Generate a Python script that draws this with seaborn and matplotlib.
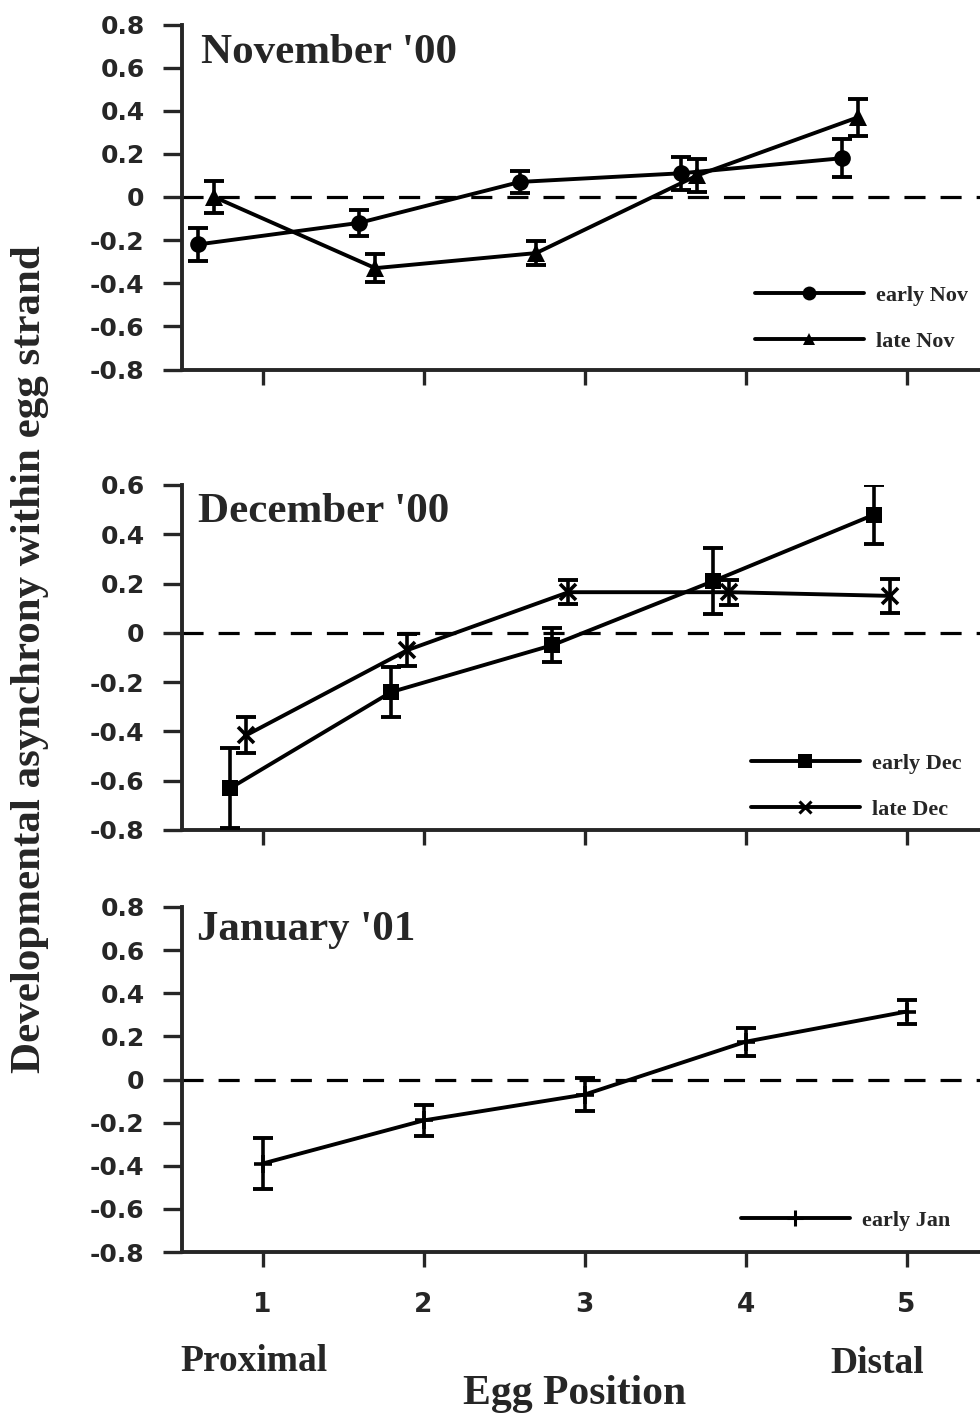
import matplotlib
matplotlib.use('Agg')
import matplotlib.pyplot as plt
from matplotlib.lines import Line2D
import seaborn as sns
import pandas as pd

# --- data (x = egg position, offset per series as drawn) ---
egg_ticks = [1, 2, 3, 4, 5]

nov_early_x = [0.6, 1.6, 2.6, 3.6, 4.6]
nov_early = [-0.22, -0.12, 0.07, 0.11, 0.18]
nov_early_err = [0.077, 0.06, 0.05, 0.077, 0.088]
nov_late_x = [0.7, 1.7, 2.7, 3.7, 4.7]
nov_late = [0.0, -0.33, -0.26, 0.10, 0.37]
nov_late_err = [0.075, 0.066, 0.055, 0.075, 0.086]

dec_early_x = [0.8, 1.8, 2.8, 3.8, 4.8]
dec_early = [-0.63, -0.24, -0.05, 0.21, 0.48]
dec_early_err = [0.163, 0.10, 0.068, 0.134, 0.12]
dec_late_x = [0.9, 1.9, 2.9, 3.9, 4.9]
dec_late = [-0.415, -0.07, 0.165, 0.165, 0.15]
dec_late_err = [0.074, 0.065, 0.048, 0.05, 0.07]

jan_early_x = [1, 2, 3, 4, 5]
jan_early = [-0.39, -0.19, -0.07, 0.175, 0.315]
jan_early_err = [0.118, 0.07, 0.078, 0.065, 0.056]

yticks_full = [-0.8, -0.6, -0.4, -0.2, 0, 0.2, 0.4, 0.6, 0.8]
yticks_dec = [-0.8, -0.6, -0.4, -0.2, 0, 0.2, 0.4, 0.6]

sns.set_style('ticks')
plt.rcParams['axes.unicode_minus'] = False
plt.rcParams['font.family'] = ['DejaVu Sans']
SERIF = 'Liberation Serif'

fig = plt.figure(figsize=(9.8, 14.15), dpi=100)
W, H = 980, 1415

def add_axes(top_px, bot_px):
    return fig.add_axes([182 / W, 1 - bot_px / H, 805 / W, (bot_px - top_px) / H])

panels = [
    dict(ax=add_axes(24.5, 369.5), title="November '00", title_xy=(201, 62.7),
         yticks=yticks_full, leg_xy=(755, 285),
         series=[('early Nov', nov_early_x, nov_early, nov_early_err, 'o', 12, 10),
                 ('late Nov', nov_late_x, nov_late, nov_late_err, '^', 13, 9)]),
    dict(ax=add_axes(485, 830), title="December '00", title_xy=(198, 521.7),
         yticks=yticks_dec, leg_xy=(751, 753),
         series=[('early Dec', dec_early_x, dec_early, dec_early_err, 's', 12, 10),
                 ('late Dec', dec_late_x, dec_late, dec_late_err, 'x', 11, 8)]),
    dict(ax=add_axes(907, 1252), title="January '01", title_xy=(197, 940),
         yticks=yticks_full, leg_xy=(741, 1210),
         series=[('early Jan', jan_early_x, jan_early, jan_early_err, '+', 13, 11)]),
]

for i, p in enumerate(panels):
    ax = p['ax']
    ax.axhline(0, color='black', lw=2.3, ls=(0, (6.6, 4.7)), zorder=1)
    handles = []
    for name, xs, ys, errs, mk, ms, lms in p['series']:
        df = pd.DataFrame({'pos': xs, 'val': ys})
        thin = mk in 'x+'
        sns.lineplot(data=df, x='pos', y='val', ax=ax, color='black', lw=2.8,
                     marker=mk, markersize=ms, markeredgewidth=2.6 if thin else 0,
                     markeredgecolor='black', legend=False, zorder=3)
        ax.errorbar(xs, ys, yerr=errs, fmt='none', ecolor='black', elinewidth=2.6,
                    capsize=7.5, capthick=2.8, zorder=3)
        handles.append(Line2D([], [], color='black', lw=2.8, marker=mk,
                              markersize=lms,
                              markeredgewidth=2.2 if thin else 0,
                              markeredgecolor='black', label=name))
    ax.set_xlim(0.5, 5.5)
    ax.set_ylim(p['yticks'][0], p['yticks'][-1])
    ax.set_yticks(p['yticks'], [f'{v:g}' for v in p['yticks']])
    ax.set_xticks(egg_ticks)
    if i < 2:
        ax.set_xticklabels([])
    else:
        ax.set_xticklabels([str(t) for t in egg_ticks])
    ax.set_xlabel('')
    ax.set_ylabel('')
    sns.despine(ax=ax)
    for s in ['left', 'bottom']:
        ax.spines[s].set_linewidth(2.8)
    ax.tick_params(axis='y', direction='out', length=14, width=2.4, pad=13,
                   labelsize=18)
    ax.tick_params(axis='x', direction='out', length=11, width=2.4, pad=18,
                   labelsize=19)
    for lab in ax.get_xticklabels() + ax.get_yticklabels():
        lab.set_fontweight('bold')

    fig.text(p['title_xy'][0] / W, 1 - p['title_xy'][1] / H, p['title'],
             family=SERIF, weight='bold', fontsize=31, va='baseline', ha='left')
    fig.legend(handles=handles, loc='upper left',
               bbox_to_anchor=(p['leg_xy'][0] / W, 1 - p['leg_xy'][1] / H),
               frameon=False, borderpad=0, borderaxespad=0,
               handlelength=4.9, handletextpad=0.55, labelspacing=1.15,
               prop={'family': SERIF, 'weight': 'bold', 'size': 16})

fig.text(30 / W, 1 - 659 / H, 'Developmental asynchrony within egg strand',
         family=SERIF, weight='bold', fontsize=31, rotation=90,
         ha='center', va='center')
fig.text(180 / W, 1 - 1371 / H, 'Proximal', family=SERIF, weight='bold',
         fontsize=27, ha='left', va='baseline')
fig.text(830 / W, 1 - 1373 / H, 'Distal', family=SERIF, weight='bold',
         fontsize=27, ha='left', va='baseline')
fig.text(575 / W, 1 - 1404 / H, 'Egg Position', family=SERIF, weight='bold',
         fontsize=30, ha='center', va='baseline')

fig.savefig('out.png', dpi=100)
